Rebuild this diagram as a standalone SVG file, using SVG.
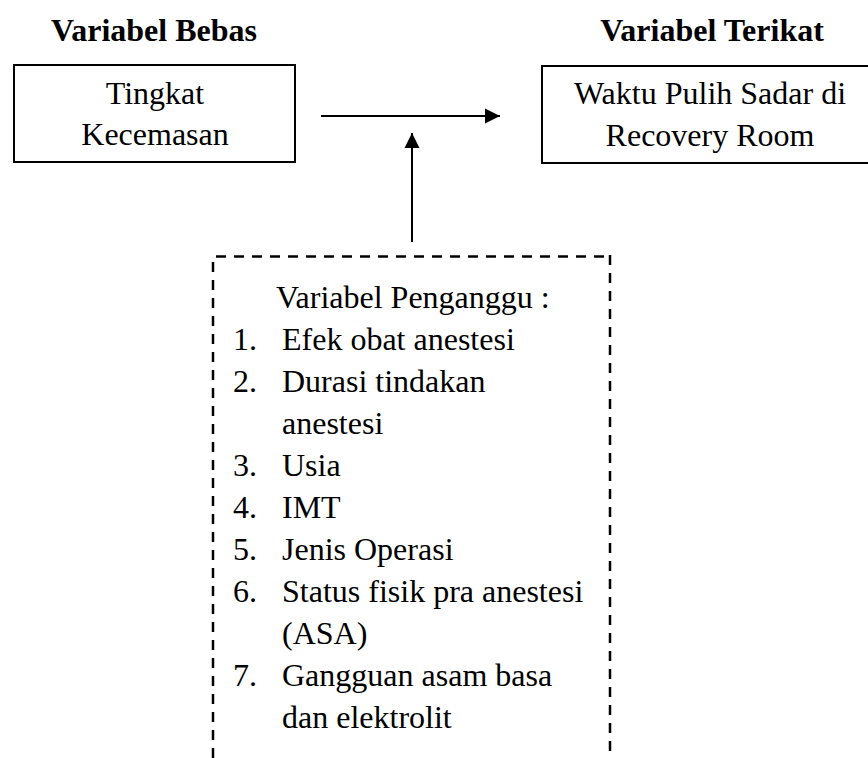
<svg xmlns="http://www.w3.org/2000/svg" width="868" height="758" viewBox="0 0 868 758">
<defs>
<marker id="ah" markerUnits="userSpaceOnUse" markerWidth="16" markerHeight="16" viewBox="0 0 16 16" refX="15" refY="8" orient="auto">
<path d="M0,0.5 L15,8 L0,15.5 Z" fill="#000"/>
</marker>
<style>
.b{font-weight:bold}
.m{text-anchor:middle}
.box{fill:none;stroke:#000;stroke-width:2}
.dash{fill:none;stroke:#000;stroke-width:2.5;stroke-dasharray:10 8}
.ln{fill:none;stroke:#000;stroke-width:2}
</style>
</defs>
<rect width="868" height="758" fill="#fff"/>
<g font-family="Liberation Serif" font-size="32" fill="#000">
<text class="b m" x="154" y="41">Variabel Bebas</text>
<text class="b m" x="712" y="41">Variabel Terikat</text>
<g id="bebas">
<rect class="box" x="14" y="65" width="281" height="97"/>
<text class="m" x="155" y="104">Tingkat</text>
<text class="m" x="155" y="145">Kecemasan</text>
</g>
<g id="terikat">
<rect class="box" x="542" y="66" width="340" height="97"/>
<text class="m" x="710" y="104">Waktu Pulih Sadar di</text>
<text class="m" x="710" y="146">Recovery Room</text>
</g>
<g id="pengganggu">
<line class="dash" x1="216" y1="256.5" x2="606" y2="256.5"/>
<line class="dash" x1="213" y1="262" x2="213" y2="758"/>
<line class="dash" x1="610" y1="255" x2="610" y2="758"/>
<text x="276" y="308">Variabel Penganggu :</text>
<text x="233" y="350">1.</text><text x="282" y="350">Efek obat anestesi</text>
<text x="233" y="392">2.</text><text x="282" y="392">Durasi tindakan</text>
<text x="282" y="434">anestesi</text>
<text x="233" y="476">3.</text><text x="282" y="476">Usia</text>
<text x="233" y="518">4.</text><text x="282" y="518">IMT</text>
<text x="233" y="560">5.</text><text x="282" y="560">Jenis Operasi</text>
<text x="233" y="602">6.</text><text x="282" y="602">Status fisik pra anestesi</text>
<text x="282" y="644">(ASA)</text>
<text x="233" y="686">7.</text><text x="282" y="686">Gangguan asam basa</text>
<text x="282" y="728">dan elektrolit</text>
</g>
</g>
<g id="connectors">
<line class="ln" x1="321" y1="116" x2="500" y2="116" marker-end="url(#ah)"/>
<line class="ln" x1="412" y1="242" x2="412" y2="133" marker-end="url(#ah)"/>
</g>
</svg>
